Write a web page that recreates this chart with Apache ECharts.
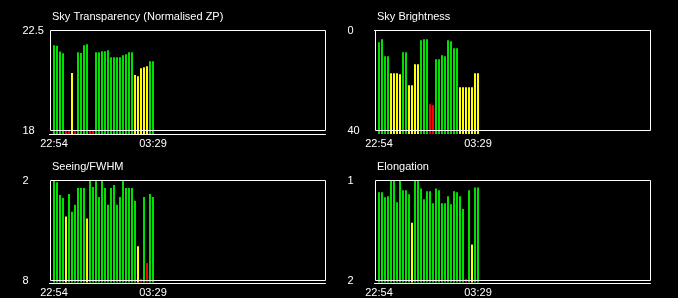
<!DOCTYPE html>
<html>
<head>
<meta charset="utf-8">
<style>
  html, body { margin: 0; padding: 0; background: #000; }
  #chart { width: 678px; height: 298px; }
</style>
<script src="https://cdn.jsdelivr.net/npm/echarts@6/dist/echarts.min.js"></script>
</head>
<body>
<div id="chart"></div>
<script>
// time axis: one slot per exposure, data starts at slot 1
const slotCount = 92;
const timeLabels = ["22:54", "03:29"];
const timeLabelBars = [0, 33];

// values
const transparency = [21.84, 21.81, 21.55, 21.48, 18.0, 18.0, 20.59, 18.0, 21.52, 21.49, 21.84, 21.88, 18.0, 18.0, 21.52, 21.52, 21.57,
    21.57, 21.61, 21.30, 21.30, 21.30, 21.30, 21.39, 21.43, 21.52, 21.52, 20.50, 20.44, 20.80, 20.85, 20.89, 21.12, 21.12];
const brightness = [4.7, 3.5, 10.3, 10.3, 17.1, 17.1, 17.1, 17.5, 8.7, 8.7, 21.9, 21.9, 13.5, 13.5, 3.9, 3.5, 3.5,
    29.5, 29.9, 11.5, 11.5, 9.9, 10.3, 3.9, 4.3, 7.1, 7.1, 22.7, 22.7, 22.7, 22.7, 22.7, 17.1, 17.1];
const seeing = [2.0, 2.1, 2.88, 3.06, 4.2, 2.82, 3.9, 3.48, 2.46, 2.46, 2.46, 4.32, 2.0, 2.4, 2.04, 3.0, 2.0,
    2.46, 3.48, 2.46, 2.28, 3.48, 3.0, 2.0, 2.46, 2.46, 2.46, 3.24, 6.0, 8.0, 3.0, 7.02, 2.82, 3.0];
const elongation = [1.12, 1.12, 1.17, 1.16, 1.0, 1.0, 1.22, 1.0, 1.10, 1.10, 1.14, 1.43, 1.0, 1.0, 1.08, 1.19, 1.11,
    1.11, 1.23, 1.08, 1.10, 1.23, 1.23, 1.16, 1.24, 1.11, 1.12, 1.16, 1.29, 2.0, 1.10, 1.65, 1.07, 1.07];

const GREEN = "#00e000", YELLOW = "#ffff00", RED = "#ff0000";
const FONT = "Liberation Sans";

const panels = [
    { title: "Sky Transparency (Normalised ZP)", data: transparency, min: 18, max: 22.5, inverse: false, left: 50.5, top: 30.5,
      color: v => v >= 21 ? GREEN : v > 18.1 ? YELLOW : RED },
    { title: "Sky Brightness", data: brightness, min: 0, max: 40, inverse: true, left: 375.5, top: 30.5,
      color: v => v < 12.5 ? GREEN : v < 26 ? YELLOW : RED },
    { title: "Seeing/FWHM", data: seeing, min: 2, max: 8, inverse: true, left: 50.5, top: 180.5,
      color: v => v < 4 ? GREEN : v < 6.5 ? YELLOW : RED },
    { title: "Elongation", data: elongation, min: 1, max: 2, inverse: true, left: 375.5, top: 180.5,
      color: v => v < 1.35 ? GREEN : v < 1.8 ? YELLOW : RED }
];

const categories = [];
for (let i = 0; i < slotCount; i++) categories.push("");
timeLabelBars.forEach((b, k) => { categories[b + 1] = timeLabels[k]; });

const chart = echarts.init(document.getElementById("chart"));

const option = { backgroundColor: "#000", animation: false, title: [], grid: [], xAxis: [], yAxis: [], series: [] };

panels.forEach((p, k) => {
    const g = k * 2;

    option.title.push({
        text: p.title, left: p.left + 1.5, top: p.top - 19.5, padding: 0,
        textStyle: { color: "#fff", fontSize: 11, fontWeight: "normal", fontFamily: FONT }
    });

    // box with the y labels
    option.grid.push({ left: p.left, top: p.top, width: 275, height: 100, show: true,
        borderColor: "#fff", borderWidth: 1, backgroundColor: "transparent", z: 5 });
    // bars + time axis
    option.grid.push({ left: p.left - 1, top: p.top, width: 276, height: 100 });

    option.xAxis.push({ gridIndex: g, type: "value", show: false });
    option.yAxis.push({
        gridIndex: g, type: "value", min: p.min, max: p.max, inverse: p.inverse,
        axisLine: { show: false }, axisTick: { show: false }, splitLine: { show: false },
        axisLabel: {
            align: "left", margin: 28, color: "#fff", fontSize: 11, fontFamily: FONT,
            formatter: v => (v === p.min || v === p.max) ? String(v) : ""
        }
    });

    option.xAxis.push({
        gridIndex: g + 1, type: "category", data: categories, offset: 4,
        axisLine: { lineStyle: { color: "#fff", width: 1 } },
        axisTick: { show: false }, splitLine: { show: false },
        axisLabel: { interval: 0, color: "#fff", margin: 4, fontSize: 11, fontFamily: FONT }
    });
    option.yAxis.push({ gridIndex: g + 1, type: "value", min: p.min, max: p.max, inverse: p.inverse, show: false });

    option.series.push({
        type: "custom", xAxisIndex: g + 1, yAxisIndex: g + 1, clip: false,
        data: p.data.map((v, i) => [i + 1, v]),
        renderItem: (params, api) => {
            const v = api.value(1);
            const pt = api.coord([api.value(0), v]);
            const cs = params.coordSys;
            const bottom = cs.y + cs.height + 3.5;
            return {
                type: "rect",
                shape: { x: pt[0] - 1, y: pt[1], width: 2, height: bottom - pt[1] },
                style: { fill: p.color(v) }
            };
        }
    });
});

chart.setOption(option);

window.addEventListener("resize", () => chart.resize());
</script>
</body>
</html>
